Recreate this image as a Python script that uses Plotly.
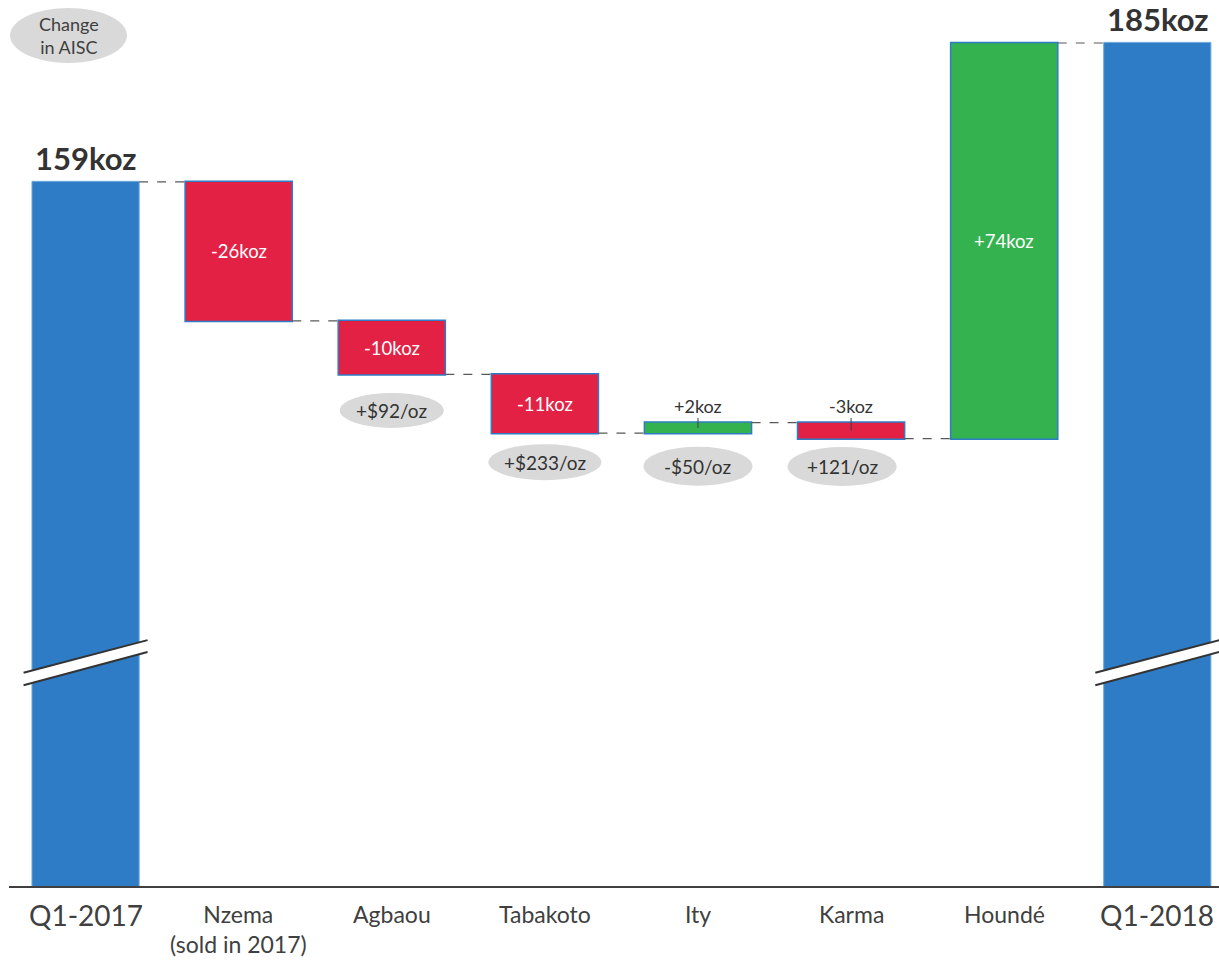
import plotly.graph_objects as go

# ---------------- data ----------------
categories = ["Q1-2017", "Nzema", "Agbaou", "Tabakoto", "Ity", "Karma", "Houndé", "Q1-2018"]
tick_labels = ["Q1-2017", "Nzema<br>(sold in 2017)", "Agbaou", "Tabakoto", "Ity", "Karma", "Houndé", "Q1-2018"]
measures = ["absolute", "relative", "relative", "relative", "relative", "relative", "relative", "total"]
values = [159, -26, -10, -11, 2, -3, 74, 0]
aisc_change = {"Agbaou": "+$92/oz", "Tabakoto": "+$233/oz", "Ity": "-$50/oz", "Karma": "+121/oz"}

# ---------------- style ----------------
BLUE = "#2E7CC5"
RED = "#E32144"
GREEN = "#34B24F"
OVAL = "#D9D9D9"
TXT = "#333333"
FONT = "Lato, 'Open Sans', sans-serif"

W, H = 1219, 961
M_L, M_R, M_T, M_B = 9, 0, 0, 75
PLOT_H = H - M_T - M_B
Y_RANGE = [27.3, 193.04]
X_RANGE = [-0.5, 7.403]
PX = (Y_RANGE[1] - Y_RANGE[0]) / PLOT_H  # value units per pixel

# cumulative levels
starts, ends = [], []
level = 0
for m, v in zip(measures, values):
    if m == "absolute":
        s, e = 0, v
        level = v
    elif m == "total":
        s, e = 0, level
    else:
        s, e = level, level + v
        level = e
    starts.append(s)
    ends.append(e)

fig = go.Figure(go.Waterfall(
    x=list(range(len(categories))),
    y=values,
    measure=measures,
    increasing=dict(marker=dict(color=GREEN, line=dict(color=BLUE, width=1.5))),
    decreasing=dict(marker=dict(color=RED, line=dict(color=BLUE, width=1.5))),
    totals=dict(marker=dict(color=BLUE, line=dict(color="#6FA8DC", width=1))),
    connector=dict(line=dict(color="#595959", width=1.2, dash="dash")),
    hoverinfo="skip",
))

annotations = []
shapes = []

# total labels
for i, m in enumerate(measures):
    if m in ("absolute", "total"):
        annotations.append(dict(x=i, y=ends[i], xref="x", yref="y", text=f"<b>{ends[i]}koz</b>",
                                showarrow=False, yanchor="middle", yshift=24, borderpad=0,
                                font=dict(size=31, color=TXT, family=FONT)))

# delta labels
for i, m in enumerate(measures):
    if m != "relative":
        continue
    v = values[i]
    txt = f"{v:+d}koz"
    mid = (starts[i] + ends[i]) / 2
    top = max(starts[i], ends[i])
    if abs(v) >= 5:
        annotations.append(dict(x=i, y=mid, xref="x", yref="y", text=txt, showarrow=False,
                                font=dict(size=18.5, color="white", family=FONT)))
    else:
        annotations.append(dict(x=i, y=mid, xref="x", yref="y", text=txt, showarrow=True,
                                arrowhead=0, arrowwidth=1, arrowcolor="#404040",
                                ax=0, ay=-((top - mid) / PX + 17),
                                font=dict(size=18, color=TXT, family=FONT)))

# AISC ovals
oval_specs = {"Agbaou": (36, 0, 104, 35), "Tabakoto": (29, 0, 113, 36),
              "Ity": (33, 0, 109, 39), "Karma": (28, -9, 109, 39)}
for name, label in aisc_change.items():
    i = categories.index(name)
    low = min(starts[i], ends[i])
    off, dx, w, h = oval_specs[name]
    shapes.append(dict(type="circle", xref="x", yref="y", xsizemode="pixel", ysizemode="pixel",
                       xanchor=i, yanchor=low, x0=dx - w / 2, x1=dx + w / 2,
                       y0=-off - h / 2, y1=-off + h / 2,
                       fillcolor=OVAL, line=dict(width=0), layer="above"))
    annotations.append(dict(x=i, y=low, xref="x", yref="y", text=label, showarrow=False,
                            xshift=dx, yshift=-off, font=dict(size=19, color=TXT, family=FONT)))

# legend oval "Change in AISC"
lx = (68.5 - M_L) / (W - M_L - M_R)
ly = 1 - 35.5 / PLOT_H
shapes.append(dict(type="circle", xref="paper", yref="paper", xsizemode="pixel", ysizemode="pixel",
                   xanchor=lx, yanchor=ly,
                   x0=-58.5, x1=58.5, y0=-27.5, y1=27.5, fillcolor=OVAL, line=dict(width=0)))
annotations.append(dict(x=lx, y=ly, xref="paper", yref="paper", xanchor="center", yanchor="middle",
                        text="Change<br>in AISC", showarrow=False,
                        font=dict(size=18, color="#404040", family=FONT)))

# axis break marks on total bars
for i, m in enumerate(measures):
    if m not in ("absolute", "total"):
        continue
    xl, xr = i - 0.405, i + 0.405
    yl_hi, yl_lo = 67.2, 64.85
    yr_hi, yr_lo = 73.3, 71.08
    shapes.append(dict(type="path", xref="x", yref="y",
                       path=f"M {xl},{yl_lo} L {xl},{yl_hi} L {xr},{yr_hi} L {xr},{yr_lo} Z",
                       fillcolor="white", line=dict(width=0), layer="above"))
    for a, b in ((yl_hi, yr_hi), (yl_lo, yr_lo)):
        shapes.append(dict(type="line", xref="x", yref="y", x0=xl, x1=xr, y0=a, y1=b,
                           line=dict(color="#333333", width=2), layer="above"))

# category labels
for i, t in enumerate(tick_labels):
    big = categories[i].startswith("Q1")
    annotations.append(dict(x=i, y=0, xref="x", yref="paper", text=t, showarrow=False,
                            xanchor="center", yanchor="top", yshift=-10 if big else -12,
                            font=dict(size=28 if big else 23, color="#404040", family=FONT)))

fig.update_layout(
    width=W, height=H,
    margin=dict(l=M_L, r=M_R, t=M_T, b=M_B),
    paper_bgcolor="white", plot_bgcolor="white",
    showlegend=False,
    waterfallgap=0.3,
    xaxis=dict(range=X_RANGE, showgrid=False, zeroline=False, showticklabels=False,
               showline=True, linecolor="#404040", linewidth=2, ticks=""),
    yaxis=dict(range=Y_RANGE, showgrid=False, zeroline=False, showticklabels=False,
               showline=False, ticks=""),
    annotations=annotations,
    shapes=shapes,
    font=dict(family=FONT),
)

fig.write_html("out.html")
